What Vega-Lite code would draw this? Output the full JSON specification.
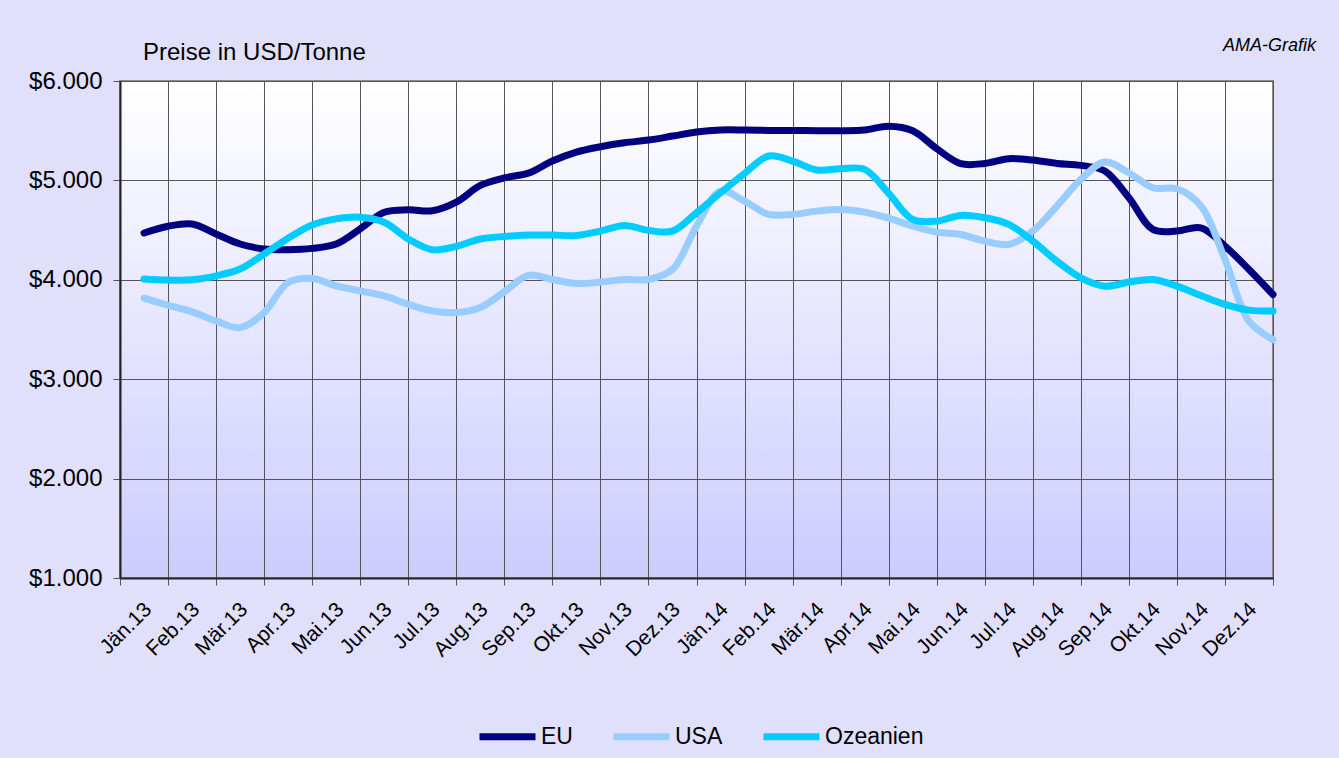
{
  "$schema": "https://vega.github.io/schema/vega-lite/v6.json",
  "width": 1153,
  "height": 497,
  "autosize": {"type": "none"},
  "padding": {"left": 120, "top": 81, "right": 66, "bottom": 180},
  "background": "#e0e0fc",
  "title": {"text": "Preise in USD/Tonne", "anchor": "start", "frame": "group", "dx": 23, "dy": 34, "offset": 6, "fontSize": 24, "fontWeight": "normal", "font": "Liberation Sans", "color": "#000000"},
  "config": {
    "font": "Liberation Sans",
    "view": {"fill": {"gradient": "linear", "x1": 0, "y1": 0, "x2": 0, "y2": 1, "stops": [{"offset": 0, "color": "#ffffff"}, {"offset": 1, "color": "#ccccff"}]}, "stroke": "#8a8a8a", "strokeWidth": 2}
  },
  "data": {"values": [
    {"t":0.5,"region":"EU","price":4471},{"t":1.0,"region":"EU","price":4539},{"t":1.5,"region":"EU","price":4562},{"t":2.0,"region":"EU","price":4461},
    {"t":2.5,"region":"EU","price":4360},{"t":3.0,"region":"EU","price":4310},{"t":3.5,"region":"EU","price":4303},{"t":4.0,"region":"EU","price":4316},
    {"t":4.5,"region":"EU","price":4360},{"t":5.0,"region":"EU","price":4512},{"t":5.5,"region":"EU","price":4680},{"t":6.0,"region":"EU","price":4704},
    {"t":6.5,"region":"EU","price":4694},{"t":7.0,"region":"EU","price":4781},{"t":7.5,"region":"EU","price":4949},{"t":8.0,"region":"EU","price":5025},
    {"t":8.5,"region":"EU","price":5073},{"t":9.0,"region":"EU","price":5195},{"t":9.5,"region":"EU","price":5285},{"t":10.0,"region":"EU","price":5339},
    {"t":10.5,"region":"EU","price":5379},{"t":11.0,"region":"EU","price":5406},{"t":11.5,"region":"EU","price":5446},{"t":12.0,"region":"EU","price":5487},
    {"t":12.5,"region":"EU","price":5507},{"t":13.0,"region":"EU","price":5507},{"t":13.5,"region":"EU","price":5503},{"t":14.0,"region":"EU","price":5503},
    {"t":14.5,"region":"EU","price":5500},{"t":15.0,"region":"EU","price":5500},{"t":15.5,"region":"EU","price":5507},{"t":16.0,"region":"EU","price":5545},
    {"t":16.5,"region":"EU","price":5500},{"t":17.0,"region":"EU","price":5319},{"t":17.5,"region":"EU","price":5168},{"t":18.0,"region":"EU","price":5171},
    {"t":18.5,"region":"EU","price":5218},{"t":19.0,"region":"EU","price":5205},{"t":19.5,"region":"EU","price":5171},{"t":20.0,"region":"EU","price":5151},
    {"t":20.5,"region":"EU","price":5094},{"t":21.0,"region":"EU","price":4826},{"t":21.5,"region":"EU","price":4507},{"t":22.0,"region":"EU","price":4490},
    {"t":22.5,"region":"EU","price":4523},{"t":23.0,"region":"EU","price":4339},{"t":23.5,"region":"EU","price":4104},{"t":24.0,"region":"EU","price":3852},

    {"t":0.5,"region":"USA","price":3815},{"t":1.0,"region":"USA","price":3744},{"t":1.5,"region":"USA","price":3677},{"t":2.0,"region":"USA","price":3586},
    {"t":2.5,"region":"USA","price":3519},{"t":3.0,"region":"USA","price":3670},{"t":3.5,"region":"USA","price":3973},{"t":4.0,"region":"USA","price":4013},
    {"t":4.5,"region":"USA","price":3939},{"t":5.0,"region":"USA","price":3889},{"t":5.5,"region":"USA","price":3838},{"t":6.0,"region":"USA","price":3754},
    {"t":6.5,"region":"USA","price":3687},{"t":7.0,"region":"USA","price":3670},{"t":7.5,"region":"USA","price":3721},{"t":8.0,"region":"USA","price":3880},
    {"t":8.5,"region":"USA","price":4045},{"t":9.0,"region":"USA","price":4003},{"t":9.5,"region":"USA","price":3963},{"t":10.0,"region":"USA","price":3977},
    {"t":10.5,"region":"USA","price":4003},{"t":11.0,"region":"USA","price":4003},{"t":11.5,"region":"USA","price":4104},{"t":12.0,"region":"USA","price":4540},
    {"t":12.5,"region":"USA","price":4893},{"t":13.0,"region":"USA","price":4792},{"t":13.5,"region":"USA","price":4658},{"t":14.0,"region":"USA","price":4658},
    {"t":14.5,"region":"USA","price":4691},{"t":15.0,"region":"USA","price":4708},{"t":15.5,"region":"USA","price":4681},{"t":16.0,"region":"USA","price":4620},
    {"t":16.5,"region":"USA","price":4540},{"t":17.0,"region":"USA","price":4480},{"t":17.5,"region":"USA","price":4456},{"t":18.0,"region":"USA","price":4389},
    {"t":18.5,"region":"USA","price":4356},{"t":19.0,"region":"USA","price":4490},{"t":19.5,"region":"USA","price":4742},{"t":20.0,"region":"USA","price":5010},
    {"t":20.5,"region":"USA","price":5185},{"t":21.0,"region":"USA","price":5077},{"t":21.5,"region":"USA","price":4926},{"t":22.0,"region":"USA","price":4916},
    {"t":22.5,"region":"USA","price":4742},{"t":23.0,"region":"USA","price":4205},{"t":23.5,"region":"USA","price":3584},{"t":24.0,"region":"USA","price":3399},

    {"t":0.5,"region":"Ozeanien","price":4007},{"t":1.0,"region":"Ozeanien","price":3997},{"t":1.5,"region":"Ozeanien","price":4000},{"t":2.0,"region":"Ozeanien","price":4040},
    {"t":2.5,"region":"Ozeanien","price":4108},{"t":3.0,"region":"Ozeanien","price":4259},{"t":3.5,"region":"Ozeanien","price":4418},{"t":4.0,"region":"Ozeanien","price":4552},
    {"t":4.5,"region":"Ozeanien","price":4613},{"t":5.0,"region":"Ozeanien","price":4630},{"t":5.5,"region":"Ozeanien","price":4579},{"t":6.0,"region":"Ozeanien","price":4411},
    {"t":6.5,"region":"Ozeanien","price":4303},{"t":7.0,"region":"Ozeanien","price":4337},{"t":7.5,"region":"Ozeanien","price":4411},{"t":8.0,"region":"Ozeanien","price":4436},
    {"t":8.5,"region":"Ozeanien","price":4450},{"t":9.0,"region":"Ozeanien","price":4450},{"t":9.5,"region":"Ozeanien","price":4446},{"t":10.0,"region":"Ozeanien","price":4490},
    {"t":10.5,"region":"Ozeanien","price":4547},{"t":11.0,"region":"Ozeanien","price":4497},{"t":11.5,"region":"Ozeanien","price":4490},{"t":12.0,"region":"Ozeanien","price":4674},
    {"t":12.5,"region":"Ozeanien","price":4876},{"t":13.0,"region":"Ozeanien","price":5070},{"t":13.5,"region":"Ozeanien","price":5245},{"t":14.0,"region":"Ozeanien","price":5195},
    {"t":14.5,"region":"Ozeanien","price":5104},{"t":15.0,"region":"Ozeanien","price":5117},{"t":15.5,"region":"Ozeanien","price":5111},{"t":16.0,"region":"Ozeanien","price":4870},
    {"t":16.5,"region":"Ozeanien","price":4607},{"t":17.0,"region":"Ozeanien","price":4590},{"t":17.5,"region":"Ozeanien","price":4648},{"t":18.0,"region":"Ozeanien","price":4624},
    {"t":18.5,"region":"Ozeanien","price":4557},{"t":19.0,"region":"Ozeanien","price":4389},{"t":19.5,"region":"Ozeanien","price":4188},{"t":20.0,"region":"Ozeanien","price":4020},
    {"t":20.5,"region":"Ozeanien","price":3936},{"t":21.0,"region":"Ozeanien","price":3977},{"t":21.5,"region":"Ozeanien","price":4003},{"t":22.0,"region":"Ozeanien","price":3936},
    {"t":22.5,"region":"Ozeanien","price":3842},{"t":23.0,"region":"Ozeanien","price":3752},{"t":23.5,"region":"Ozeanien","price":3695},{"t":24.0,"region":"Ozeanien","price":3685}
  ]},
  "layer": [
    {
      "mark": {"type": "line", "interpolate": "catmull-rom", "strokeWidth": 7, "strokeCap": "round", "strokeJoin": "round", "clip": false},
      "encoding": {
        "x": {"field": "t", "type": "quantitative", "scale": {"domain": [0, 24], "nice": false, "zero": false},
          "axis": {"title": null, "values": [0,1,2,3,4,5,6,7,8,9,10,11,12,13,14,15,16,17,18,19,20,21,22,23,24],
            "grid": true, "gridColor": "#555555", "gridWidth": 1, "gridOpacity": 1,
            "domainColor": "#222222", "domainWidth": 2, "tickColor": "#555555", "tickSize": 7, "tickWidth": 1,
            "labelAngle": -45, "labelAlign": "right", "labelBaseline": "middle", "labelOffset": 28, "labelPadding": 21,
            "labelFontSize": 21, "labelColor": "#000000", "labelFont": "Liberation Sans", "labelFlush": false, "labelOverlap": false, "labelBound": false,
            "labelExpr": "['Jän.13','Feb.13','Mär.13','Apr.13','Mai.13','Jun.13','Jul.13','Aug.13','Sep.13','Okt.13','Nov.13','Dez.13','Jän.14','Feb.14','Mär.14','Apr.14','Mai.14','Jun.14','Jul.14','Aug.14','Sep.14','Okt.14','Nov.14','Dez.14',''][datum.value]"}},
        "y": {"field": "price", "type": "quantitative", "scale": {"domain": [1000, 6000], "nice": false, "zero": false},
          "axis": {"title": null, "values": [1000,2000,3000,4000,5000,6000],
            "grid": true, "gridColor": "#555555", "gridWidth": 1, "gridOpacity": 1,
            "domainColor": "#222222", "domainWidth": 2, "tickColor": "#555555", "tickSize": 7, "tickWidth": 1,
            "labelFontSize": 24, "labelColor": "#000000", "labelFont": "Liberation Sans", "labelPadding": 11,
            "labelExpr": "'$' + replace(format(datum.value, ','), ',', '.')"}},
        "color": {"field": "region", "type": "nominal",
          "scale": {"domain": ["EU", "USA", "Ozeanien"], "range": ["#000080", "#99ccff", "#00ccff"]},
          "legend": {"title": null, "orient": "none", "legendX": 356, "legendY": 624, "direction": "horizontal",
            "symbolType": "stroke", "symbolSize": 3136, "symbolStrokeWidth": 7, "labelFontSize": 23, "labelFont": "Liberation Sans",
            "labelColor": "#000000", "labelOffset": 2, "columnPadding": 26}}
      }
    },
    {
      "data": {"values": [{"label": "AMA-Grafik"}]},
      "mark": {"type": "text", "align": "right", "baseline": "alphabetic", "dx": 43, "dy": -30, "fontSize": 18, "fontStyle": "italic", "font": "Liberation Sans", "color": "#000000"},
      "encoding": {
        "x": {"datum": 24, "type": "quantitative"},
        "y": {"datum": 6000, "type": "quantitative"},
        "text": {"field": "label"}
      }
    }
  ]
}
